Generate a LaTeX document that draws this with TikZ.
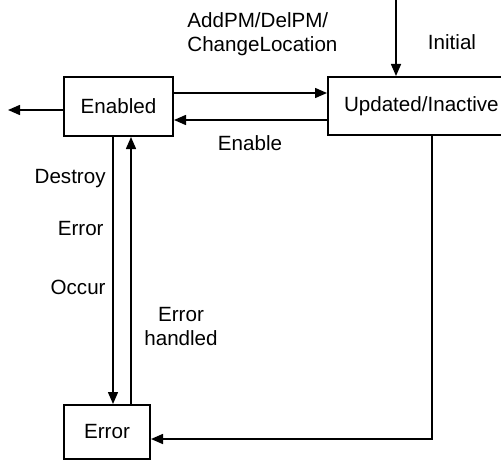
\documentclass[tikz,border=0pt]{standalone}
\usepackage{fontspec}
\setmainfont{Liberation Sans}
\usepackage{tikz}
\usetikzlibrary{arrows.meta}
\usetikzlibrary{positioning}
\tikzstyle{statebox}=[draw,line width=1pt,inner sep=0pt,font=\fontsize{10.3}{12}\selectfont]
\tikzstyle{lbl}=[inner sep=0pt,font=\fontsize{10.3}{12}\selectfont]
\tikzstyle{trans}=[line width=0.75pt,-{Triangle[length=6pt,width=5pt]}]

\begin{document}
\begin{tikzpicture}[x=0.5pt,y=-0.5pt]
\useasboundingbox (0,0) rectangle (501,460);
\node [statebox,minimum width=54.5pt,minimum height=29.5pt] (enabled) at (118.5,106.5) {Enabled};
\node [statebox,minimum width=110pt,minimum height=29pt,text width=110pt,align=left] (updated) at (438,106) {\hspace{8pt}Updated/Inactive};
\node [statebox,minimum width=43pt,minimum height=27pt] (error) at (107,432) {Error};
\coordinate (out) at (8,110);
\coordinate (init) at (396,0);
% transitions
\draw [trans] (enabled.west |- out) -- (out);
\draw [trans] (init) -- (init |- updated.north);
\draw [trans] (enabled.east |- 0,93) -- (updated.west |- 0,93);
\draw [trans] (updated.west |- 0,120) -- (enabled.east |- 0,120);
\draw [trans] (enabled.south -| 113,0) -- (error.north -| 113,0);
\draw [trans] (error.north -| 131,0) -- (enabled.south -| 131,0);
\draw [trans] (updated.south -| 432,0) |- (error.east |- 0,439);
% labels
\node [lbl,anchor=west,align=left] (lchange) at (187,34) {AddPM/DelPM/\\ChangeLocation};
\node [lbl] (linit) at (452,42) {Initial};
\node [lbl] (lenable) at (250,143) {Enable};
\node [lbl,anchor=east] (ldestroy) at (106,179) {Destroy};
\node [lbl,anchor=east] (lerror) at (104,229) {Error};
\node [lbl,anchor=east] (loccur) at (106,287) {Occur};
\node [lbl,align=center] (lhandled) at (181,327) {Error\\handled};
\end{tikzpicture}
\end{document}
